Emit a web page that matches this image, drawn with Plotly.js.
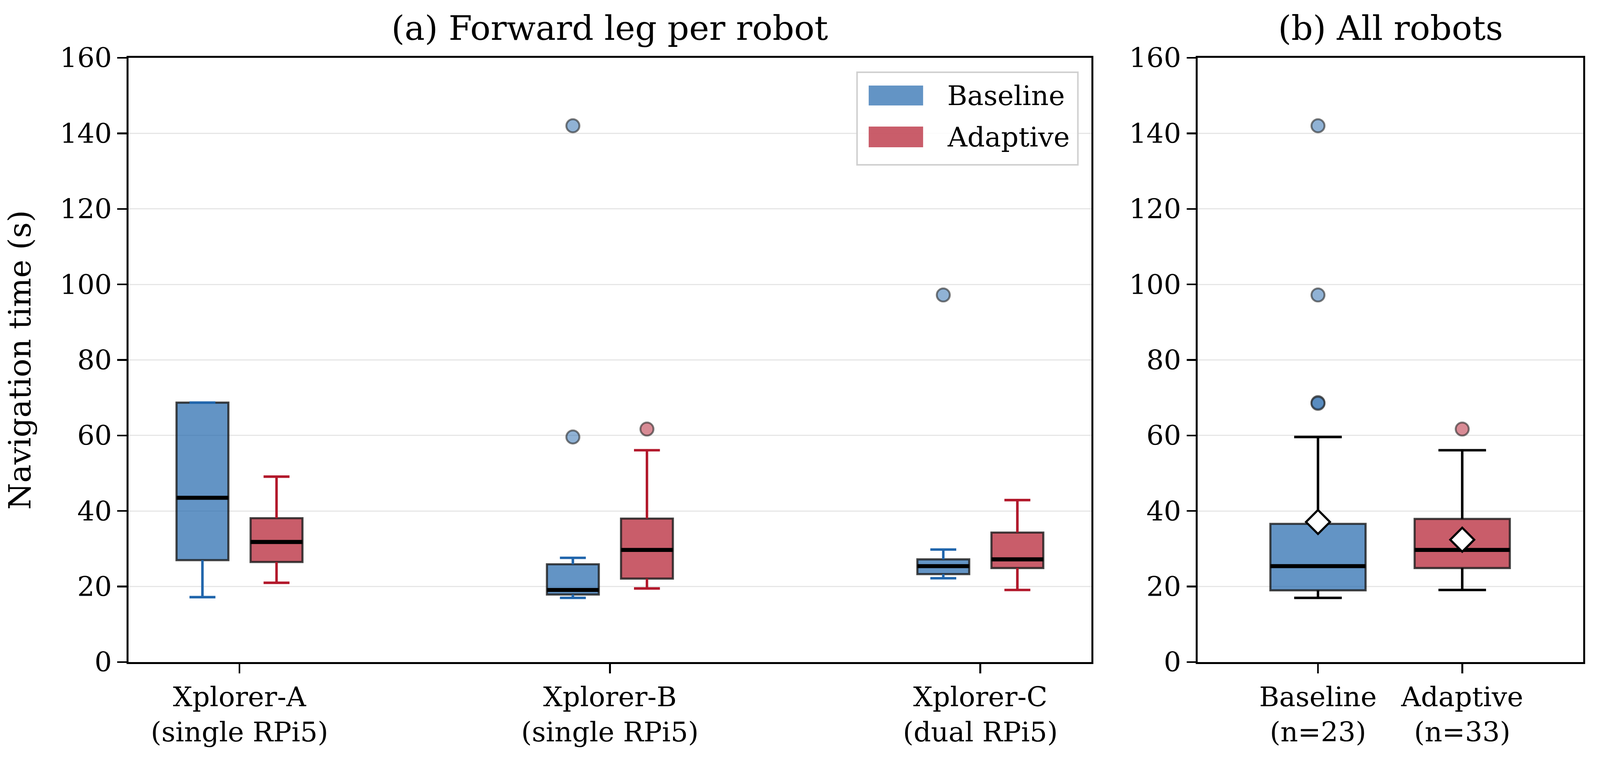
<!DOCTYPE html>
<html><head><meta charset="utf-8">
<script src="https://cdn.plot.ly/plotly-3.0.1.min.js"></script>
<style>html,body{margin:0;padding:0;background:#fff;overflow:hidden;}#chart{width:100vw;height:100vh;}</style>
</head><body><div id="chart"></div>
<script>
// ---------- data ----------
const robotLabels = ['Xplorer-A<br>(single RPi5)', 'Xplorer-B<br>(single RPi5)', 'Xplorer-C<br>(dual RPi5)'];
const robotPos = [0, 1, 2];

const baseQ1  = [27.0, 17.9, 23.3];
const baseMed = [43.5, 19.1, 25.4];
const baseQ3  = [68.7, 25.9, 27.2];
const baseLo  = [17.2, 17.0, 22.2];
const baseHi  = [68.7, 27.6, 29.8];
const baseOut = [[], [142.0, 59.6], [97.2]];

const adQ1  = [26.5, 22.1, 24.9];
const adMed = [31.8, 29.7, 27.2];
const adQ3  = [38.1, 38.0, 34.3];
const adLo  = [21.0, 19.5, 19.1];
const adHi  = [49.1, 56.1, 42.9];
const adOut = [[], [61.7], []];

const groupLabels = ['Baseline<br>(n=23)', 'Adaptive<br>(n=33)'];
const groupPos = [0, 1];
const allQ1   = [19.0, 24.9];
const allMed  = [25.4, 29.7];
const allQ3   = [36.6, 37.9];
const allLo   = [17.0, 19.1];
const allHi   = [59.6, 56.1];
const allMean = [37.1, 32.4];
const allOut  = [[142.0, 97.2, 68.7, 68.5], [61.7]];

const seriesNames = ['Baseline', 'Adaptive'];
const yTicks = [0, 20, 40, 60, 80, 100, 120, 140, 160];

// ---------- sizing (design is 4238 x 1938, fitted to the actual viewport) ----------
const W0 = 4238, H0 = 1938;
const VW = window.innerWidth || W0, VH = window.innerHeight || H0;
const SX = VW / W0, SY = VH / H0, SM = Math.sqrt(SX * SY);
const pm = v => v * SM;

const FONT = 'DejaVu Serif';
const BLUE = '#2166ac', RED = '#b2182b';
const BLUE_FILL = 'rgba(33,102,172,0.7)', RED_FILL = 'rgba(178,24,43,0.7)';
const BLUE_PT = 'rgba(33,102,172,0.5)', RED_PT = 'rgba(178,24,43,0.5)';
const EDGE = 'rgba(25,25,25,0.8)';
const PT_EDGE = 'rgba(40,40,40,0.6)';
const W_LEFT = 0.14, W_RIGHT = 0.66, OFFSET = 0.1;

function shift(arr, d) { return arr.map(v => v + d); }

function boxTrace(pos, q1, med, q3, lo, hi, width, fill, xa, ya) {
  return {type: 'box', x: pos, q1: q1, median: med, q3: q3, lowerfence: lo, upperfence: hi,
    width: width, fillcolor: fill, line: {color: EDGE, width: pm(5.5)}, whiskerwidth: 0,
    boxpoints: false, xaxis: xa, yaxis: ya, showlegend: false, hoverinfo: 'skip'};
}
function whiskerTrace(pos, q1, q3, lo, hi, width, color, xa, ya) {
  const xs = [], ys = [], c = width / 4;
  pos.forEach((p, i) => {
    xs.push(p, p, null, p, p, null, p - c, p + c, null, p - c, p + c, null);
    ys.push(q3[i], hi[i], null, q1[i], lo[i], null, hi[i], hi[i], null, lo[i], lo[i], null);
  });
  return {type: 'scatter', mode: 'lines', x: xs, y: ys, line: {color: color, width: pm(6.5)},
    xaxis: xa, yaxis: ya, showlegend: false, hoverinfo: 'skip'};
}
function medianTrace(pos, med, width, xa, ya) {
  const xs = [], ys = [], h = width / 2;
  pos.forEach((p, i) => { xs.push(p - h, p + h, null); ys.push(med[i], med[i], null); });
  return {type: 'scatter', mode: 'lines', x: xs, y: ys, line: {color: '#000', width: pm(10.5)},
    xaxis: xa, yaxis: ya, showlegend: false, hoverinfo: 'skip'};
}
function outlierTrace(pos, outs, fill, xa, ya) {
  const xs = [], ys = [];
  pos.forEach((p, i) => outs[i].forEach(v => { xs.push(p); ys.push(v); }));
  return {type: 'scatter', mode: 'markers', x: xs, y: ys,
    marker: {symbol: 'circle', size: pm(34), color: fill, line: {color: PT_EDGE, width: pm(5)}},
    xaxis: xa, yaxis: ya, showlegend: false, hoverinfo: 'skip'};
}

const bPos = shift(robotPos, -OFFSET), aPos = shift(robotPos, OFFSET);

const traces = [
  boxTrace(bPos, baseQ1, baseMed, baseQ3, baseLo, baseHi, W_LEFT, BLUE_FILL, 'x', 'y'),
  boxTrace(aPos, adQ1, adMed, adQ3, adLo, adHi, W_LEFT, RED_FILL, 'x', 'y'),
  whiskerTrace(bPos, baseQ1, baseQ3, baseLo, baseHi, W_LEFT, BLUE, 'x', 'y'),
  whiskerTrace(aPos, adQ1, adQ3, adLo, adHi, W_LEFT, RED, 'x', 'y'),
  medianTrace(bPos, baseMed, W_LEFT, 'x', 'y'),
  medianTrace(aPos, adMed, W_LEFT, 'x', 'y'),
  outlierTrace(bPos, baseOut, BLUE_PT, 'x', 'y'),
  outlierTrace(aPos, adOut, RED_PT, 'x', 'y'),

  boxTrace([groupPos[0]], [allQ1[0]], [allMed[0]], [allQ3[0]], [allLo[0]], [allHi[0]], W_RIGHT, BLUE_FILL, 'x2', 'y2'),
  boxTrace([groupPos[1]], [allQ1[1]], [allMed[1]], [allQ3[1]], [allLo[1]], [allHi[1]], W_RIGHT, RED_FILL, 'x2', 'y2'),
  whiskerTrace(groupPos, allQ1, allQ3, allLo, allHi, W_RIGHT, '#000', 'x2', 'y2'),
  medianTrace(groupPos, allMed, W_RIGHT, 'x2', 'y2'),
  outlierTrace([groupPos[0]], [allOut[0]], BLUE_PT, 'x2', 'y2'),
  outlierTrace([groupPos[1]], [allOut[1]], RED_PT, 'x2', 'y2'),
  {type: 'scatter', mode: 'markers', x: groupPos, y: allMean,
   marker: {symbol: 'diamond', size: pm(48), color: '#fff', line: {color: '#000', width: pm(5.5)}},
   xaxis: 'x2', yaxis: 'y2', showlegend: false, hoverinfo: 'skip'}
];

const tickFont = {family: FONT, size: pm(71), color: '#000'};
const axCommon = {showline: true, linecolor: '#000', linewidth: pm(5), mirror: true,
  ticks: 'outside', tickwidth: pm(4.5), tickcolor: '#000', tickfont: tickFont,
  zeroline: false, automargin: false};

const yCommon = Object.assign({}, axCommon, {range: [0, 160], tickvals: yTicks, ticklen: 24 * SX,
  showgrid: true, gridcolor: '#e6e6e6', gridwidth: pm(3), ticklabelstandoff: 24 * SX});

const layout = {
  width: VW, height: VH,
  margin: {l: 0, r: 0, t: 0, b: 0},
  paper_bgcolor: '#fff', plot_bgcolor: '#fff',
  showlegend: false,
  boxmode: 'overlay',
  font: {family: FONT, color: '#000'},
  xaxis: Object.assign({}, axCommon, {domain: [340/W0, 2891/W0], range: [-0.3, 2.3], ticklen: 24 * SY,
    tickvals: robotPos, ticktext: robotLabels, showgrid: false, anchor: 'y', ticklabelstandoff: 0}),
  yaxis: Object.assign({}, yCommon, {domain: [243/H0, 1790/H0], anchor: 'x',
    title: {text: 'Navigation time (s)', font: {family: FONT, size: pm(80), color: '#000'}, standoff: 52 * SX}}),
  xaxis2: Object.assign({}, axCommon, {domain: [3172/W0, 4194/W0], range: [-0.835, 1.84], ticklen: 24 * SY,
    tickvals: groupPos, ticktext: groupLabels, showgrid: false, anchor: 'y2', ticklabelstandoff: 0}),
  yaxis2: Object.assign({}, yCommon, {domain: [243/H0, 1790/H0], anchor: 'x2'}),
  shapes: [
    {type: 'rect', xref: 'x domain', yref: 'y domain', x0: 0.7566, x1: 0.9859, y0: 0.8229, y1: 0.9761,
     line: {color: '#d0d0d0', width: pm(4)}, fillcolor: 'rgba(255,255,255,0.85)', layer: 'above'},
    {type: 'rect', xref: 'x domain', yref: 'y domain', x0: 0.7687, x1: 0.8252, y0: 0.9211, y1: 0.9541,
     line: {width: 0}, fillcolor: BLUE_FILL, layer: 'above'},
    {type: 'rect', xref: 'x domain', yref: 'y domain', x0: 0.7687, x1: 0.8252, y0: 0.852, y1: 0.8862,
     line: {width: 0}, fillcolor: RED_FILL, layer: 'above'}
  ],
  annotations: [
    {text: '(a) Forward leg per robot', xref: 'x domain', yref: 'paper', x: 0.5, y: (H0-72)/H0,
     xanchor: 'center', yanchor: 'middle', showarrow: false, font: {family: FONT, size: pm(88), color: '#000'}},
    {text: '(b) All robots', xref: 'x2 domain', yref: 'paper', x: 0.5, y: (H0-72)/H0,
     xanchor: 'center', yanchor: 'middle', showarrow: false, font: {family: FONT, size: pm(88), color: '#000'}},
    {text: seriesNames[0], xref: 'x domain', yref: 'y domain', x: 0.8495, y: 0.9373,
     xanchor: 'left', yanchor: 'middle', showarrow: false, font: {family: FONT, size: pm(71), color: '#000'}},
    {text: seriesNames[1], xref: 'x domain', yref: 'y domain', x: 0.8495, y: 0.8694,
     xanchor: 'left', yanchor: 'middle', showarrow: false, font: {family: FONT, size: pm(71), color: '#000'}}
  ]
};

Plotly.newPlot('chart', traces, layout, {displayModeBar: false, staticPlot: true});
</script>
</body></html>
